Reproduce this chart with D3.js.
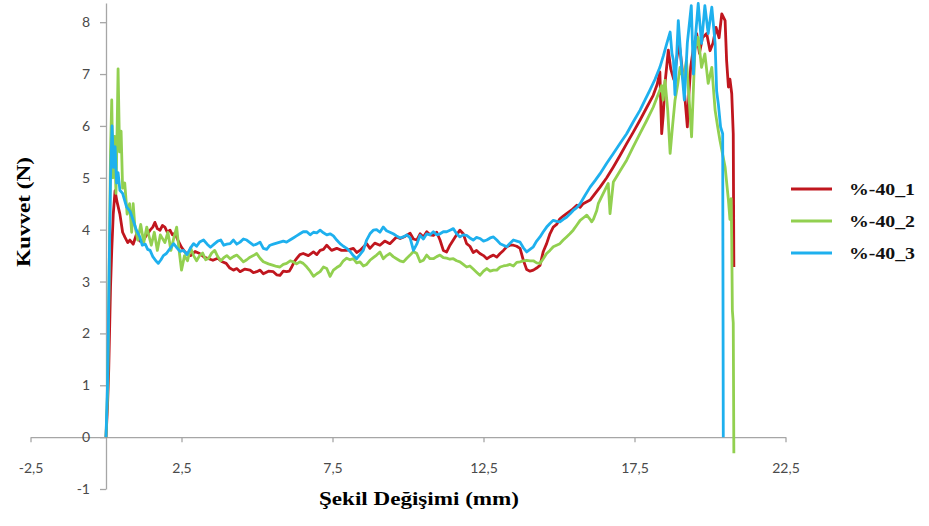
<!DOCTYPE html>
<html>
<head>
<meta charset="utf-8">
<script src="https://cdn.jsdelivr.net/npm/d3@7"></script>
<style>
  body { margin: 0; background: #fff; }
  svg { display: block; }
</style>
</head>
<body>
<div id="chart"></div>
<script>
// force-displacement readings, [displacement mm, force N]
const red40_1 = [
  [0,0],[0.05,0.6],[0.09,1.3],[0.12,2.1],[0.15,2.9],[0.19,3.6],[0.24,4.3],[0.3,4.75],[0.36,4.55],[0.46,4.3],[0.55,3.95],[0.63,3.85],[0.72,3.75],[0.79,3.8],[0.9,3.72],[1.02,3.93],[1.12,3.78],[1.24,3.8],[1.35,3.9],[1.46,3.99],[1.55,4.05],[1.62,4.14],[1.7,4.02],[1.79,3.99],[1.87,4.08],[1.95,4.05],[2.03,3.95],[2.12,3.99],[2.2,3.9],[2.28,3.93],[2.38,3.8],[2.5,3.66],[2.6,3.58],[2.67,3.54],[2.8,3.5],[2.95,3.58],[3.1,3.54],[3.25,3.47],[3.4,3.44],[3.54,3.41],[3.7,3.45],[3.85,3.38],[3.98,3.35],[4.1,3.26],[4.22,3.22],[4.33,3.25],[4.44,3.19],[4.6,3.24],[4.77,3.22],[4.88,3.17],[4.99,3.19],[5.1,3.22],[5.21,3.15],[5.38,3.2],[5.54,3.19],[5.65,3.13],[5.76,3.12],[5.87,3.2],[5.98,3.19],[6.07,3.2],[6.15,3.28],[6.23,3.38],[6.31,3.44],[6.42,3.52],[6.53,3.54],[6.7,3.5],[6.87,3.57],[6.98,3.52],[7.09,3.6],[7.2,3.62],[7.31,3.7],[7.47,3.6],[7.64,3.64],[7.8,3.6],[7.97,3.6],[8.08,3.62],[8.19,3.64],[8.3,3.56],[8.41,3.6],[8.63,3.73],[8.74,3.64],[8.9,3.74],[9.07,3.7],[9.23,3.78],[9.4,3.73],[9.62,3.86],[9.74,3.83],[9.9,3.87],[10.07,3.93],[10.18,3.82],[10.29,3.8],[10.4,3.92],[10.51,3.86],[10.62,3.96],[10.73,3.9],[10.84,3.89],[10.95,3.95],[11.06,3.8],[11.17,3.6],[11.28,3.57],[11.39,3.7],[11.5,3.8],[11.61,3.9],[11.72,3.99],[11.83,3.92],[11.94,3.73],[12.05,3.68],[12.16,3.56],[12.27,3.6],[12.38,3.54],[12.5,3.5],[12.61,3.44],[12.72,3.48],[12.83,3.51],[12.94,3.47],[13.05,3.54],[13.16,3.6],[13.27,3.67],[13.38,3.7],[13.49,3.7],[13.6,3.68],[13.71,3.64],[13.82,3.41],[13.93,3.23],[14.04,3.2],[14.15,3.22],[14.26,3.26],[14.37,3.31],[14.48,3.58],[14.59,3.73],[14.7,3.92],[14.81,4.05],[14.92,4.1],[15.03,4.21],[15.14,4.26],[15.25,4.31],[15.42,4.38],[15.59,4.47],[15.7,4.43],[15.8,4.5],[16.03,4.57],[16.2,4.7],[16.36,4.82],[16.58,5.0],[16.8,5.21],[17.02,5.43],[17.24,5.66],[17.46,5.88],[17.68,6.11],[17.9,6.35],[18.12,6.59],[18.25,6.8],[18.34,7.04],[18.4,5.85],[18.45,6.2],[18.51,6.82],[18.62,7.46],[18.7,7.1],[18.8,6.9],[18.9,7.3],[18.98,7.59],[19.06,7.2],[19.14,6.75],[19.25,5.98],[19.3,6.6],[19.36,7.13],[19.45,7.5],[19.56,7.78],[19.65,7.4],[19.75,7.7],[19.89,7.78],[20.0,7.45],[20.1,7.6],[20.2,7.9],[20.3,7.7],[20.39,8.16],[20.5,8.03],[20.55,7.26],[20.61,6.75],[20.66,6.9],[20.72,6.62],[20.77,5.85],[20.79,3.28]
];

const green40_2 = [
  [0,0],[0.06,1.0],[0.09,2.5],[0.12,4.0],[0.15,5.5],[0.19,6.5],[0.23,5.0],[0.28,5.8],[0.33,4.7],[0.37,6.0],[0.4,7.1],[0.45,5.5],[0.5,5.9],[0.55,4.8],[0.62,4.9],[0.7,4.3],[0.78,4.5],[0.85,3.95],[0.9,4.5],[0.95,4.1],[1.05,3.8],[1.15,4.1],[1.25,3.75],[1.35,4.05],[1.5,3.7],[1.6,3.95],[1.7,3.6],[1.8,3.9],[1.95,3.75],[2.05,3.95],[2.15,3.6],[2.25,3.85],[2.34,4.05],[2.42,3.6],[2.5,3.22],[2.6,3.5],[2.7,3.4],[2.8,3.65],[2.9,3.5],[3.0,3.4],[3.1,3.5],[3.2,3.55],[3.3,3.42],[3.4,3.45],[3.5,3.55],[3.6,3.6],[3.7,3.48],[3.8,3.4],[3.9,3.46],[4.0,3.5],[4.11,3.44],[4.22,3.48],[4.33,3.51],[4.44,3.45],[4.55,3.38],[4.66,3.42],[4.77,3.47],[4.88,3.5],[4.99,3.54],[5.1,3.45],[5.21,3.38],[5.38,3.34],[5.54,3.31],[5.65,3.29],[5.76,3.28],[5.87,3.33],[5.98,3.35],[6.1,3.4],[6.2,3.38],[6.31,3.34],[6.42,3.38],[6.53,3.35],[6.65,3.28],[6.76,3.2],[6.87,3.1],[6.98,3.15],[7.09,3.19],[7.2,3.28],[7.31,3.25],[7.42,3.1],[7.53,3.22],[7.64,3.27],[7.75,3.31],[7.86,3.4],[7.97,3.45],[8.08,3.42],[8.19,3.44],[8.3,3.36],[8.41,3.38],[8.52,3.3],[8.63,3.33],[8.74,3.41],[8.85,3.46],[8.96,3.51],[9.07,3.57],[9.18,3.44],[9.29,3.5],[9.4,3.54],[9.51,3.48],[9.62,3.44],[9.73,3.4],[9.85,3.38],[9.96,3.45],[10.07,3.51],[10.18,3.58],[10.29,3.54],[10.4,3.38],[10.51,3.41],[10.62,3.51],[10.73,3.44],[10.84,3.44],[10.95,3.48],[11.06,3.51],[11.17,3.46],[11.28,3.45],[11.39,3.43],[11.5,3.44],[11.61,3.4],[11.72,3.38],[11.83,3.33],[11.94,3.28],[12.05,3.3],[12.16,3.24],[12.27,3.18],[12.38,3.12],[12.5,3.2],[12.61,3.25],[12.72,3.2],[12.83,3.22],[12.94,3.22],[13.05,3.28],[13.16,3.3],[13.27,3.31],[13.38,3.33],[13.49,3.3],[13.6,3.37],[13.71,3.38],[13.82,3.4],[13.93,3.41],[14.04,3.4],[14.15,3.4],[14.26,3.36],[14.37,3.35],[14.48,3.44],[14.59,3.54],[14.7,3.6],[14.81,3.67],[14.92,3.7],[15.03,3.73],[15.14,3.8],[15.25,3.86],[15.36,3.92],[15.47,3.99],[15.58,4.08],[15.7,4.18],[15.81,4.23],[15.92,4.28],[16.03,4.2],[16.08,4.15],[16.14,4.2],[16.25,4.37],[16.3,4.5],[16.45,4.68],[16.63,4.89],[16.69,4.31],[16.8,4.92],[17.02,5.13],[17.24,5.34],[17.46,5.6],[17.68,5.85],[17.9,6.1],[18.12,6.36],[18.26,6.57],[18.4,6.78],[18.45,6.5],[18.51,6.88],[18.6,6.3],[18.68,5.47],[18.76,6.0],[18.84,6.49],[18.93,6.8],[19.01,7.13],[19.12,6.9],[19.22,7.26],[19.3,6.6],[19.39,5.79],[19.45,6.7],[19.5,7.46],[19.61,7.71],[19.72,7.13],[19.83,7.39],[19.94,6.82],[20.06,7.13],[20.17,6.3],[20.25,6.0],[20.33,5.72],[20.5,5.21],[20.61,4.57],[20.66,4.2],[20.7,4.6],[20.72,3.8],[20.74,2.45],[20.77,2.2],[20.79,-0.31]
];

const blue40_3 = [
  [0,0],[0.05,1.0],[0.1,3.0],[0.15,5.0],[0.2,6.0],[0.25,5.2],[0.3,5.6],[0.35,4.9],[0.4,5.1],[0.46,4.76],[0.55,4.7],[0.68,4.44],[0.8,4.35],[0.9,4.18],[1.0,4.0],[1.12,3.86],[1.2,3.7],[1.3,3.72],[1.38,3.62],[1.46,3.6],[1.55,3.48],[1.65,3.4],[1.73,3.35],[1.82,3.42],[1.9,3.5],[2.0,3.54],[2.1,3.62],[2.24,3.73],[2.35,3.65],[2.45,3.58],[2.57,3.6],[2.68,3.52],[2.8,3.65],[2.9,3.73],[3.0,3.68],[3.1,3.76],[3.23,3.8],[3.35,3.72],[3.46,3.66],[3.58,3.72],[3.7,3.78],[3.8,3.8],[3.9,3.7],[4.0,3.72],[4.11,3.73],[4.22,3.8],[4.33,3.72],[4.44,3.76],[4.55,3.82],[4.66,3.8],[4.77,3.75],[4.88,3.7],[4.99,3.72],[5.1,3.76],[5.21,3.64],[5.32,3.62],[5.43,3.7],[5.54,3.72],[5.65,3.74],[5.76,3.76],[5.87,3.78],[5.98,3.76],[6.09,3.8],[6.2,3.84],[6.31,3.88],[6.42,3.92],[6.53,3.96],[6.65,3.96],[6.76,3.9],[6.87,3.95],[6.98,3.94],[7.09,3.99],[7.2,3.94],[7.31,3.9],[7.42,3.92],[7.53,3.88],[7.64,3.8],[7.75,3.73],[7.86,3.68],[7.97,3.64],[8.08,3.58],[8.19,3.5],[8.3,3.44],[8.41,3.52],[8.52,3.6],[8.63,3.8],[8.74,3.92],[8.85,3.99],[8.96,4.0],[9.07,3.95],[9.18,4.05],[9.29,3.98],[9.4,3.95],[9.51,3.92],[9.62,3.88],[9.74,3.84],[9.85,3.86],[9.96,3.9],[10.07,3.84],[10.18,3.6],[10.29,3.72],[10.4,3.89],[10.51,3.82],[10.62,3.92],[10.73,3.9],[10.84,3.96],[10.95,3.9],[11.06,3.92],[11.17,3.96],[11.28,3.96],[11.39,3.99],[11.5,4.02],[11.61,3.92],[11.72,3.86],[11.83,3.9],[11.94,3.89],[12.05,3.84],[12.16,3.8],[12.27,3.85],[12.38,3.83],[12.5,3.78],[12.61,3.8],[12.72,3.84],[12.83,3.86],[12.94,3.8],[13.05,3.73],[13.16,3.7],[13.27,3.67],[13.38,3.74],[13.49,3.8],[13.6,3.78],[13.71,3.76],[13.82,3.65],[13.93,3.57],[14.04,3.62],[14.15,3.67],[14.26,3.78],[14.37,3.86],[14.48,3.96],[14.59,4.05],[14.7,4.12],[14.81,4.18],[14.92,4.16],[15.03,4.15],[15.14,4.2],[15.25,4.24],[15.36,4.3],[15.47,4.37],[15.58,4.42],[15.7,4.5],[15.86,4.66],[16.03,4.82],[16.2,4.95],[16.36,5.08],[16.58,5.28],[16.8,5.47],[17.02,5.66],[17.24,5.85],[17.46,6.08],[17.68,6.3],[17.85,6.5],[18.01,6.69],[18.18,6.9],[18.34,7.13],[18.46,7.36],[18.57,7.59],[18.68,7.81],[18.74,7.4],[18.79,7.26],[18.84,6.6],[18.9,7.4],[18.95,8.03],[19.06,7.13],[19.15,6.5],[19.25,7.6],[19.38,8.32],[19.45,7.0],[19.53,7.8],[19.61,8.36],[19.72,7.59],[19.83,8.32],[19.94,7.78],[20.06,8.29],[20.17,7.59],[20.22,6.67],[20.28,6.4],[20.35,5.98],[20.42,5.85],[20.44,0.0]
];

const seriesNames = ['%-40_1', '%-40_2', '%-40_3'];
const seriesColors = ['#c0161e', '#92d050', '#1eb0ee'];
const xTicks = [-2.5, 2.5, 7.5, 12.5, 17.5, 22.5];
const yTicks = [-1, 0, 1, 2, 3, 4, 5, 6, 7, 8];

const width = 929, height = 526;

const svg = d3.select('#chart').append('svg')
    .attr('width', width)
    .attr('height', height);

const x = d3.scaleLinear().domain([-2.5, 22.5]).range([30.5, 785.5]);
const y = d3.scaleLinear().domain([-1, 8.37]).range([489, 3]);

// Turkish style numbers: decimal comma, plain hyphen for minus
const locale = d3.formatLocale({ decimal: ',', thousands: '.', grouping: [3], currency: ['', ''], minus: '-' });
const fmtX = locale.format('.1f');
const fmtY = locale.format('d');

// axes (Excel style: y axis crosses at 0, x labels sit low)
const xAxis = svg.append('g')
    .attr('transform', `translate(0,${y(0)})`)
    .call(d3.axisBottom(x).tickValues(xTicks).tickSize(5).tickSizeOuter(0).tickPadding(21).tickFormat(fmtX));

const yAxis = svg.append('g')
    .attr('transform', `translate(${x(0)},0)`)
    .call(d3.axisLeft(y).tickValues(yTicks).tickSize(6).tickSizeOuter(0).tickPadding(10).tickFormat(fmtY));

[xAxis, yAxis].forEach(g => {
    g.select('.domain').attr('stroke', '#a6a6a6').attr('stroke-width', 1.3);
    g.selectAll('.tick line').attr('stroke', '#a6a6a6').attr('stroke-width', 1.3);
    g.selectAll('.tick text')
        .attr('fill', '#4a4a4a')
        .attr('font-family', 'Lato, "Open Sans", sans-serif')
        .attr('font-size', '14px');
});

// series
const line = d3.line()
    .x(d => x(d[0]))
    .y(d => y(d[1]));

const allSeries = [red40_1, green40_2, blue40_3];

svg.append('g')
    .attr('fill', 'none')
    .attr('stroke-width', 2.8)
    .attr('stroke-linejoin', 'round')
    .selectAll('path')
    .data(allSeries)
    .join('path')
        .attr('stroke', (d, i) => seriesColors[i])
        .attr('d', line);

// axis titles
svg.append('text')
    .attr('transform', `translate(24,212) rotate(-90)`)
    .attr('text-anchor', 'middle')
    .attr('dominant-baseline', 'central')
    .attr('font-family', '"Liberation Serif", "Times New Roman", serif')
    .attr('font-weight', 'bold')
    .attr('font-size', '18px')
    .attr('textLength', 110)
    .attr('lengthAdjust', 'spacingAndGlyphs')
    .text('Kuvvet (N)');

svg.append('text')
    .attr('x', 419)
    .attr('y', 505)
    .attr('text-anchor', 'middle')
    .attr('font-family', '"Liberation Serif", "Times New Roman", serif')
    .attr('font-weight', 'bold')
    .attr('font-size', '18px')
    .attr('textLength', 200)
    .attr('lengthAdjust', 'spacingAndGlyphs')
    .text('Şekil Değişimi (mm)');

// legend
const legendY = [189, 221, 253];
const legend = svg.append('g')
    .selectAll('g')
    .data(seriesNames)
    .join('g')
        .attr('transform', (d, i) => `translate(791,${legendY[i]})`);

legend.append('line')
    .attr('x1', 0).attr('x2', 41)
    .attr('stroke', (d, i) => seriesColors[i])
    .attr('stroke-width', 3);

legend.append('text')
    .attr('x', 58)
    .attr('dy', '0.35em')
    .attr('font-family', '"Liberation Serif", "Times New Roman", serif')
    .attr('font-weight', 'bold')
    .attr('font-size', '17px')
    .attr('textLength', 66)
    .attr('lengthAdjust', 'spacingAndGlyphs')
    .attr('fill', '#111')
    .text(d => d);
</script>
</body>
</html>
